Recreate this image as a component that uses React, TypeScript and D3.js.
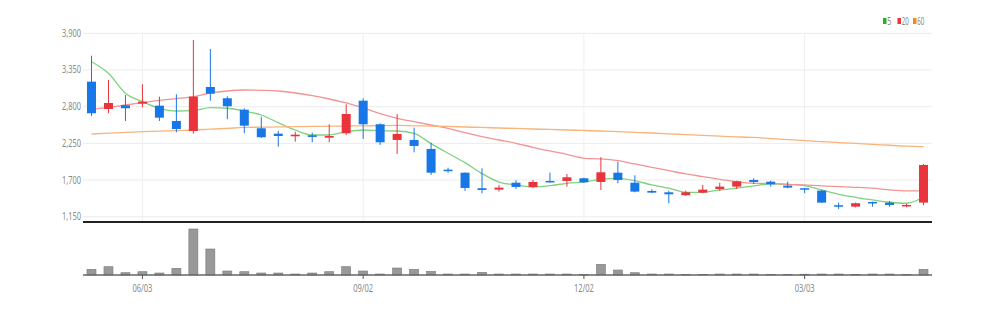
import React from "react";
import * as d3 from "d3";

const dates = ["05/13","05/20","05/27","06/03","06/10","06/17","06/24","07/01","07/08","07/15","07/22","07/29","08/05","08/12","08/19","08/26","09/02","09/09","09/16","09/23","09/30","10/07","10/14","10/21","10/28","11/04","11/11","11/18","11/25","12/02","12/09","12/16","12/23","12/30","01/06","01/13","01/20","01/27","02/03","02/10","02/17","02/24","03/03","03/10","03/17","03/24","03/31","04/07","04/14","04/21"];
const opens = [3175,2765,2821,2845,2815,2585,2435,3095,2926,2755,2476,2395,2356,2371,2335,2401,2890,2536,2301,2301,2166,1855,1810,1577,1556,1660,1596,1686,1686,1726,1671,1810,1660,1536,1516,1472,1511,1566,1601,1701,1675,1616,1577,1541,1322,1301,1371,1361,1307,1361];
const highs = [3564,3200,2975,3135,2950,2986,3800,3665,2955,2776,2650,2435,2425,2410,2536,2836,2926,2551,2690,2485,2260,1885,1815,1876,1626,1696,1701,1810,1791,1736,2041,1975,1771,1561,1541,1541,1626,1660,1690,1726,1690,1675,1580,1551,1361,1362,1376,1386,1341,1941];
const lows = [2660,2701,2585,2791,2585,2416,2395,2890,2611,2401,2330,2200,2275,2266,2266,2376,2316,2226,2091,2116,1776,1810,1536,1502,1526,1566,1586,1660,1601,1656,1551,1651,1516,1502,1352,1462,1502,1536,1566,1641,1601,1576,1502,1356,1266,1290,1301,1301,1292,1326];
const closes = [2701,2855,2776,2875,2635,2465,2950,2995,2806,2515,2341,2360,2380,2346,2360,2690,2536,2266,2391,2211,1810,1836,1581,1551,1586,1596,1671,1666,1741,1666,1816,1701,1526,1511,1486,1516,1556,1601,1681,1671,1636,1586,1556,1361,1307,1352,1356,1326,1326,1926];
const volumes = [57000,83000,23000,33000,20000,67000,460000,260000,40000,33000,20000,20000,10000,20000,33000,83000,40000,10000,70000,57000,37000,10000,10000,27000,10000,10000,10000,10000,10000,5000,107000,50000,23000,10000,10000,5000,5000,10000,10000,10000,5000,5000,8000,10000,10000,5000,10000,10000,5000,57000];
const ma5 = [3474,3300,3000,2875,2776,2735,2740,2785,2776,2735,2675,2560,2450,2375,2375,2425,2450,2440,2435,2400,2245,2101,1960,1795,1670,1625,1595,1615,1651,1670,1711,1726,1690,1626,1577,1516,1516,1551,1577,1611,1641,1636,1616,1551,1486,1441,1401,1367,1352,1441];
const ma20 = [2760,2790,2825,2860,2895,2920,2950,3005,3035,3050,3045,3035,3005,2965,2915,2855,2780,2695,2626,2575,2525,2476,2410,2350,2300,2251,2191,2136,2086,2026,2016,1990,1941,1891,1841,1791,1751,1711,1671,1651,1651,1636,1626,1611,1601,1591,1577,1551,1536,1536];
const ma60 = [2390,2402,2413,2425,2433,2442,2450,2463,2475,2488,2492,2496,2500,2503,2507,2510,2513,2515,2518,2513,2508,2503,2495,2488,2480,2473,2465,2458,2450,2443,2435,2425,2415,2405,2393,2380,2368,2358,2348,2338,2322,2306,2290,2276,2262,2248,2235,2221,2208,2200];
const yTicks = [1150, 1700, 2250, 2800, 3350, 3900];
const xTickLabels = ["06/03", "09/02", "12/02", "03/03"];
const legendNames = ["5", "20", "60"];

const UP = "#e8343a";
const DOWN = "#1877e6";
const MA_COLORS = ["#7fd07f", "#f29494", "#f7b57c"];
const LEG_COLORS = ["#22b322", "#e8343a", "#f08c1c"];

export default function App() {
  const left = 83, right = 932;
  const x = d3.scaleBand<string>().domain(dates).range([left, right]).padding(0);
  const bw = x.bandwidth();
  const cx = (i: number) => (x(dates[i]) as number) + bw / 2;
  const y = d3.scaleLinear().domain([1150, 3900]).range([216.7, 33.3]);
  const vy = d3.scaleLinear().domain([0, d3.max(volumes) as number]).range([275, 229]);
  const bodyW = 9;

  const line = d3.line<number>().x((_, i) => cx(i)).y((v) => y(v)).curve(d3.curveMonotoneX);
  const mas = [ma5, ma20, ma60];
  const font = "'Noto Sans', 'DejaVu Sans', sans-serif";

  return (
    <svg width={994} height={309} style={{ position: "absolute", left: 0, top: 0, background: "#fff" }}>
      {yTicks.map((t) => (
        <g key={t}>
          <line x1={left} x2={right} y1={y(t)} y2={y(t)} stroke="#ececec" strokeWidth={1} />
          <text x={81} y={y(t) + 3.5} fontSize={10} fill="#8a8a8a" textAnchor="end" fontFamily={font}
            textLength={19} lengthAdjust="spacingAndGlyphs">{d3.format(",")(t)}</text>
        </g>
      ))}
      {xTickLabels.map((d) => (
        <line key={d} x1={cx(dates.indexOf(d))} x2={cx(dates.indexOf(d))} y1={33.3} y2={221} stroke="#efefef" strokeWidth={1} />
      ))}
      {mas.map((m, k) => (
        <path key={k} d={line(m) as string} fill="none" stroke={MA_COLORS[k]} strokeWidth={1.3} />
      ))}
      {dates.map((d, i) => {
        const up = closes[i] >= opens[i];
        const c = up ? UP : DOWN;
        const top = y(Math.max(opens[i], closes[i]));
        const bot = y(Math.min(opens[i], closes[i]));
        const h = Math.max(bot - top, 1.5);
        return (
          <g key={d}>
            <line x1={cx(i)} x2={cx(i)} y1={y(highs[i])} y2={y(lows[i])} stroke={c} strokeWidth={1} />
            <rect x={cx(i) - bodyW / 2} y={top} width={bodyW} height={h} fill={c} />
          </g>
        );
      })}
      <line x1={left} x2={right} y1={222} y2={222} stroke="#222" strokeWidth={2} />
      {dates.map((d, i) => (
        <rect key={d} x={cx(i) - 4.5} y={vy(volumes[i])} width={9} height={275 - vy(volumes[i])}
          fill="#999" stroke="#7a7a7a" strokeWidth={0.6} />
      ))}
      <line x1={left} x2={right} y1={275} y2={275} stroke="#666" strokeWidth={1.5} />
      {xTickLabels.map((d) => {
        const xx = cx(dates.indexOf(d));
        return (
          <g key={d}>
            <line x1={xx} x2={xx} y1={275} y2={279} stroke="#555" strokeWidth={1} />
            <text x={xx} y={291.5} fontSize={10} fill="#8a8a8a" textAnchor="middle" fontFamily={font}
              textLength={20} lengthAdjust="spacingAndGlyphs">{d}</text>
          </g>
        );
      })}
      {legendNames.map((n, k) => {
        const lx = [883, 897.5, 913][k];
        return (
          <g key={n}>
            <rect x={lx} y={18} width={3.5} height={6} fill={LEG_COLORS[k]} />
            <text x={lx + 4.3} y={24.5} fontSize={10} fill="#888" fontFamily={font}
              textLength={n.length === 1 ? 4 : 7} lengthAdjust="spacingAndGlyphs">{n}</text>
          </g>
        );
      })}
    </svg>
  );
}
